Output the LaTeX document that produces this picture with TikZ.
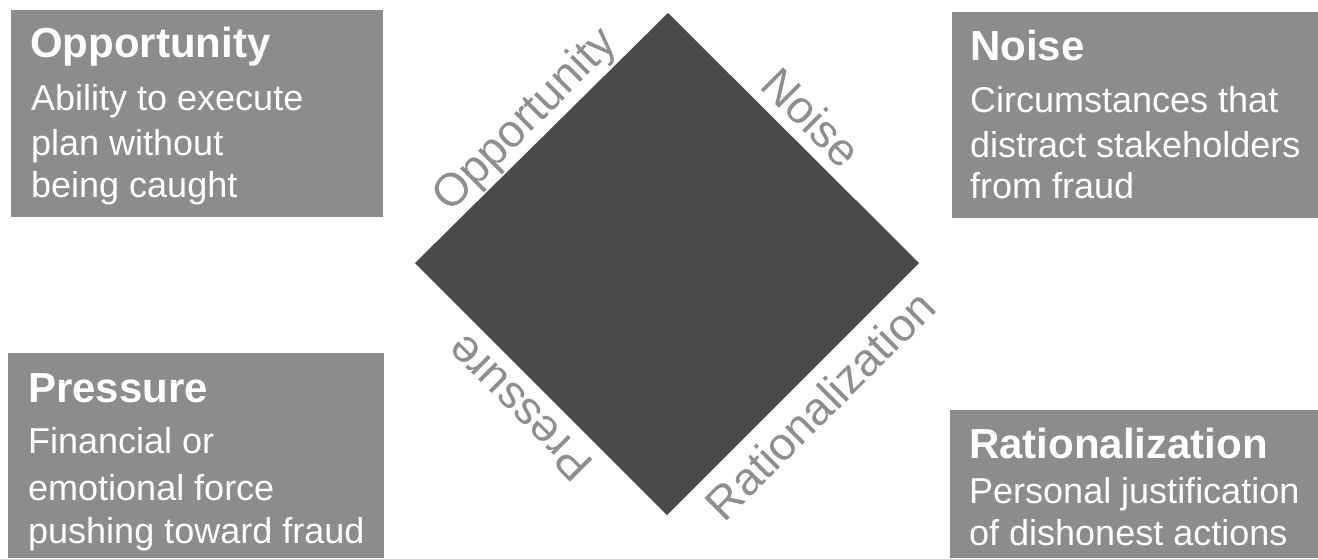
\documentclass[tikz,border=0pt]{standalone}
\usepackage{fontspec}
\setmainfont{Liberation Sans}
\definecolor{boxgray}{HTML}{8C8C8C}
\definecolor{diagray}{HTML}{4A4A4A}
\definecolor{lblgray}{HTML}{8E8E8E}
\begin{document}
\begin{tikzpicture}[x=1pt,y=-1pt,
  card/.style={fill=boxgray, draw=none, inner sep=0pt, anchor=north west},
  ttl/.style={anchor=base west, text=white, inner sep=0pt, font=\fontsize{42}{42}\selectfont\bfseries},
  bodyline/.style={anchor=base west, text=white, inner sep=0pt, font=\fontsize{36}{40}\selectfont},
  lbl/.style={text=lblgray, inner sep=0pt, font=\fontsize{46}{46}\selectfont}]
\useasboundingbox (0,0) rectangle (1318,558);
% boxes
\node[card, minimum width=372pt, minimum height=207pt] (oppbox) at (11,10) {};
\node[card, minimum width=366pt, minimum height=206pt] (noibox) at (952,12) {};
\node[card, minimum width=376pt, minimum height=205pt] (prebox) at (8,353) {};
\node[card, minimum width=368pt, minimum height=148pt] (ratbox) at (950,410) {};
% top-left
\node[ttl] (oppt) at (30,57) {Opportunity};
\node[bodyline] (opp1) at (31,110) {Ability to execute};
\node[bodyline] (opp2) at (31,155) {plan without};
\node[bodyline] (opp3) at (31,197) {being caught};
% top-right
\node[ttl] (noit) at (970,60) {Noise};
\node[bodyline] (noi1) at (970,112) {Circumstances that};
\node[bodyline] (noi2) at (970,157) {distract stakeholders};
\node[bodyline] (noi3) at (970,198) {from fraud};
% bottom-left
\node[ttl] (pret) at (28,402) {Pressure};
\node[bodyline] (pre1) at (28,453) {Financial or};
\node[bodyline] (pre2) at (28,500) {emotional force};
\node[bodyline] (pre3) at (28,543) {pushing toward fraud};
% bottom-right
\node[ttl] (ratt) at (969,458) {Rationalization};
\node[bodyline] (rat1) at (969,503) {Personal justification};
\node[bodyline] (rat2) at (969,545) {of dishonest actions};
% diamond
\coordinate (T) at (668,13);
\coordinate (R) at (919,263);
\coordinate (B) at (667,515);
\coordinate (L) at (415,263);
\fill[diagray] (T) -- (R) -- (B) -- (L) -- cycle;
% edge labels
\node[lbl, rotate=45] (lopp) at (526,121) {Opportunity};
\node[lbl, rotate=-45] (lnoi) at (812,117) {Noise};
\node[lbl, rotate=135] (lpre) at (519,408) {Pressure};
\node[lbl, rotate=45] (lrat) at (820,405) {Rationalization};
\end{tikzpicture}
\end{document}
